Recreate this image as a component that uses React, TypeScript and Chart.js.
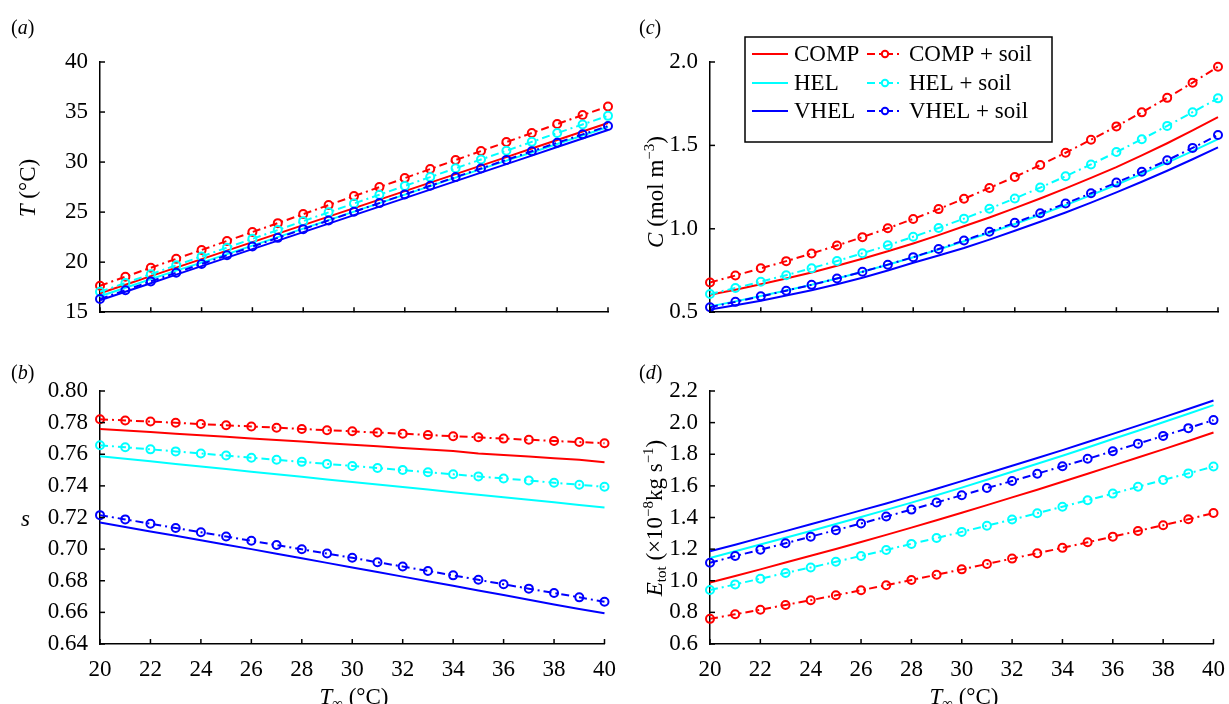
import React, { useEffect, useRef } from 'react';
import { Chart, registerables } from 'chart.js';

Chart.register(...registerables);

// ---------------- data ----------------
const xValues = [20, 21, 22, 23, 24, 25, 26, 27, 28, 29, 30, 31, 32, 33, 34, 35, 36, 37, 38, 39, 40];
const xTicks = [20, 22, 24, 26, 28, 30, 32, 34, 36, 38, 40];

const seriesNames = ['COMP', 'HEL', 'VHEL', 'COMP + soil', 'HEL + soil', 'VHEL + soil'];

// (a) T (°C)
const aTicks = [15, 20, 25, 30, 35, 40];
const aComp = [16.9, 17.75, 18.6, 19.45, 20.3, 21.15, 22.0, 22.85, 23.7, 24.55, 25.4, 26.25, 27.1, 27.95, 28.8, 29.65, 30.5, 31.35, 32.2, 33.05, 33.9];
const aHel = [16.6, 17.45, 18.3, 19.15, 19.95, 20.8, 21.65, 22.5, 23.35, 24.2, 25.05, 25.9, 26.75, 27.6, 28.45, 29.3, 30.15, 30.95, 31.8, 32.65, 33.5];
const aVhel = [16.2, 17.05, 17.9, 18.75, 19.6, 20.45, 21.3, 22.15, 23.0, 23.85, 24.7, 25.55, 26.4, 27.25, 28.1, 28.95, 29.8, 30.65, 31.5, 32.35, 33.2];
const aCompSoil = [17.64, 18.55, 19.44, 20.33, 21.22, 22.12, 23.01, 23.9, 24.8, 25.7, 26.6, 27.5, 28.4, 29.3, 30.2, 31.1, 32.0, 32.9, 33.8, 34.7, 35.55];
const aHelSoil = [17.04, 17.92, 18.8, 19.69, 20.57, 21.45, 22.33, 23.21, 24.1, 24.98, 25.86, 26.74, 27.62, 28.5, 29.38, 30.26, 31.14, 32.02, 32.9, 33.76, 34.62];
const aVhelSoil = [16.32, 17.2, 18.08, 18.95, 19.82, 20.69, 21.56, 22.43, 23.3, 24.17, 25.04, 25.9, 26.77, 27.63, 28.5, 29.36, 30.22, 31.08, 31.93, 32.77, 33.6];

// (b) s
const bTicks = [0.64, 0.66, 0.68, 0.7, 0.72, 0.74, 0.76, 0.78, 0.8];
const bComp = [0.776, 0.775, 0.774, 0.773, 0.772, 0.771, 0.77, 0.769, 0.768, 0.767, 0.766, 0.765, 0.764, 0.763, 0.762, 0.7605, 0.7595, 0.7585, 0.7575, 0.7565, 0.755];
const bHel = [0.7587, 0.7571, 0.7555, 0.7539, 0.7522, 0.7506, 0.749, 0.7474, 0.7458, 0.7441, 0.7425, 0.7409, 0.7393, 0.7377, 0.736, 0.7344, 0.7328, 0.7312, 0.7296, 0.7279, 0.7263];
const bVhel = [0.7168, 0.714, 0.7112, 0.7084, 0.7056, 0.7028, 0.7, 0.6971, 0.6942, 0.6913, 0.6884, 0.6855, 0.6826, 0.6797, 0.6768, 0.6739, 0.671, 0.668, 0.665, 0.6622, 0.6594];
const bCompSoil = [0.7821, 0.7814, 0.7807, 0.7799, 0.7791, 0.7783, 0.7776, 0.7768, 0.776, 0.7752, 0.7745, 0.7737, 0.773, 0.7722, 0.7714, 0.7707, 0.7699, 0.7692, 0.7684, 0.7677, 0.767];
const bHelSoil = [0.7657, 0.7644, 0.7631, 0.7618, 0.7605, 0.7592, 0.7578, 0.7565, 0.7552, 0.7539, 0.7526, 0.7513, 0.75, 0.7486, 0.7473, 0.746, 0.7447, 0.7434, 0.742, 0.7407, 0.7394];
const bVhelSoil = [0.7215, 0.7188, 0.7161, 0.7134, 0.7107, 0.708, 0.7053, 0.7026, 0.6999, 0.6972, 0.6945, 0.6917, 0.689, 0.6862, 0.6834, 0.6806, 0.6778, 0.675, 0.6723, 0.6695, 0.6667];

// (c) C (mol m^-3)
const cTicks = [0.5, 1.0, 1.5, 2.0];
const cComp = [0.605, 0.635, 0.667, 0.702, 0.738, 0.778, 0.82, 0.865, 0.912, 0.962, 1.015, 1.068, 1.124, 1.182, 1.242, 1.305, 1.37, 1.44, 1.513, 1.59, 1.67];
const cHel = [0.535, 0.565, 0.597, 0.63, 0.665, 0.702, 0.742, 0.784, 0.829, 0.876, 0.925, 0.976, 1.029, 1.084, 1.142, 1.202, 1.264, 1.329, 1.397, 1.466, 1.538];
const cVhel = [0.516, 0.542, 0.569, 0.6, 0.632, 0.668, 0.707, 0.75, 0.796, 0.84, 0.885, 0.935, 0.988, 1.042, 1.098, 1.157, 1.218, 1.282, 1.348, 1.417, 1.488];
const cCompSoil = [0.678, 0.72, 0.763, 0.806, 0.852, 0.9, 0.95, 1.003, 1.059, 1.118, 1.18, 1.245, 1.311, 1.382, 1.456, 1.534, 1.614, 1.698, 1.785, 1.876, 1.972];
const cHelSoil = [0.609, 0.645, 0.683, 0.722, 0.764, 0.807, 0.853, 0.901, 0.952, 1.005, 1.061, 1.12, 1.182, 1.247, 1.315, 1.386, 1.46, 1.537, 1.617, 1.699, 1.782];
const cVhelSoil = [0.53, 0.562, 0.595, 0.629, 0.664, 0.702, 0.742, 0.785, 0.83, 0.879, 0.93, 0.982, 1.036, 1.093, 1.152, 1.213, 1.277, 1.342, 1.411, 1.485, 1.562];

// (d) E_tot (x10^-8 kg s^-1)
const dTicks = [0.6, 0.8, 1.0, 1.2, 1.4, 1.6, 1.8, 2.0, 2.2];
const dComp = [0.989, 1.03, 1.072, 1.115, 1.158, 1.201, 1.245, 1.29, 1.336, 1.383, 1.43, 1.478, 1.527, 1.576, 1.626, 1.677, 1.728, 1.779, 1.831, 1.884, 1.938];
const dHel = [1.144, 1.186, 1.229, 1.272, 1.315, 1.359, 1.403, 1.448, 1.494, 1.541, 1.589, 1.639, 1.689, 1.74, 1.791, 1.843, 1.896, 1.949, 2.002, 2.056, 2.111];
const dVhel = [1.186, 1.228, 1.271, 1.314, 1.357, 1.401, 1.445, 1.489, 1.535, 1.582, 1.63, 1.678, 1.727, 1.776, 1.826, 1.877, 1.929, 1.981, 2.033, 2.086, 2.14];
const dCompSoil = [0.759, 0.788, 0.817, 0.847, 0.877, 0.908, 0.94, 0.972, 1.005, 1.038, 1.072, 1.106, 1.14, 1.174, 1.208, 1.243, 1.279, 1.315, 1.351, 1.389, 1.428];
const dHelSoil = [0.941, 0.977, 1.013, 1.049, 1.084, 1.12, 1.157, 1.195, 1.233, 1.27, 1.309, 1.348, 1.387, 1.427, 1.468, 1.509, 1.551, 1.594, 1.637, 1.679, 1.722];
const dVhelSoil = [1.114, 1.156, 1.196, 1.237, 1.279, 1.32, 1.362, 1.406, 1.45, 1.495, 1.541, 1.586, 1.631, 1.677, 1.724, 1.771, 1.819, 1.867, 1.916, 1.965, 2.016];

// ---------------- styles ----------------
const RED = '#ff0000';
const CYAN = '#00ffff';
const BLUE = '#0000ff';
const seriesColors = [RED, CYAN, BLUE, RED, CYAN, BLUE];
const FONT = '"Liberation Serif", "Times New Roman", Times, serif';
const FONT_SIZE = 23;
const DASH = [8, 4, 2, 4];

function makeDatasets(values: number[][]) {
  return values.map((v, i) => {
    const soil = i >= 3;
    return {
      label: seriesNames[i],
      data: xValues.map((x, k) => ({ x, y: v[k] })),
      borderColor: seriesColors[i],
      backgroundColor: seriesColors[i],
      borderWidth: 2,
      borderDash: soil ? DASH : [],
      pointRadius: soil ? 4 : 0,
      pointHoverRadius: soil ? 4 : 0,
      pointBorderWidth: 2,
      pointBorderColor: seriesColors[i],
      pointBackgroundColor: 'rgba(0,0,0,0)',
      pointStyle: 'circle',
      tension: 0,
      clip: false as any,
      order: 6 - i,
      fill: false,
    };
  });
}

const inwardTicks = {
  id: 'inwardTicks',
  afterDatasetsDraw(chart: any) {
    const ctx = chart.ctx;
    const { left, bottom } = chart.chartArea;
    const xs = chart.scales.x;
    const ys = chart.scales.y;
    ctx.save();
    ctx.strokeStyle = '#000';
    ctx.lineWidth = 1.5;
    xs.ticks.forEach((t: any) => {
      const px = xs.getPixelForValue(t.value);
      ctx.beginPath();
      ctx.moveTo(px, bottom);
      ctx.lineTo(px, bottom - 5);
      ctx.stroke();
    });
    ys.ticks.forEach((t: any) => {
      const py = ys.getPixelForValue(t.value);
      ctx.beginPath();
      ctx.moveTo(left, py);
      ctx.lineTo(left + 5, py);
      ctx.stroke();
    });
    ctx.restore();
  },
};

const boxLegend = {
  id: 'boxLegend',
  afterDraw(chart: any, _args: any, opts: any) {
    if (!opts || !opts.show) return;
    const ctx = chart.ctx;
    const { bx, by, bw, bh, rows, cols } = opts;
    ctx.save();
    ctx.fillStyle = '#fff';
    ctx.fillRect(bx, by, bw, bh);
    ctx.strokeStyle = '#000';
    ctx.lineWidth = 1.5;
    ctx.strokeRect(bx, by, bw, bh);
    ctx.font = `${FONT_SIZE}px ${FONT}`;
    ctx.textBaseline = 'middle';
    ctx.textAlign = 'left';
    chart.data.datasets.forEach((ds: any, i: number) => {
      const col = cols[Math.floor(i / 3)];
      const y = rows[i % 3];
      ctx.strokeStyle = ds.borderColor;
      ctx.lineWidth = 2;
      ctx.setLineDash(ds.borderDash || []);
      ctx.beginPath();
      ctx.moveTo(col.x0, y);
      ctx.lineTo(col.x1, y);
      ctx.stroke();
      ctx.setLineDash([]);
      if (ds.pointRadius > 0) {
        ctx.beginPath();
        ctx.arc((col.x0 + col.x1) / 2, y, 3.2, 0, Math.PI * 2);
        ctx.fillStyle = '#fff';
        ctx.fill();
        ctx.stroke();
      }
      ctx.fillStyle = '#000';
      ctx.fillText(ds.label, col.tx, y + 1);
    });
    ctx.restore();
  },
};

type PanelProps = {
  left: number;
  top: number;
  width: number;
  height: number;
  yAxisW: number;
  xAxisH: number;
  padTop: number;
  padRight: number;
  yTicks: number[];
  decimals: number;
  values: number[][];
  showXLabels: boolean;
  legend?: any;
};

function Panel(p: PanelProps) {
  const ref = useRef<HTMLCanvasElement>(null);
  useEffect(() => {
    if (!ref.current) return;
    const chart = new Chart(ref.current, {
      type: 'line',
      data: { datasets: makeDatasets(p.values) as any },
      plugins: [inwardTicks, boxLegend],
      options: {
        responsive: false,
        maintainAspectRatio: false,
        animation: false,
        events: [],
        layout: { autoPadding: false, padding: { top: p.padTop, right: p.padRight, left: 0, bottom: 0 } },
        plugins: {
          legend: { display: false },
          tooltip: { enabled: false },
          title: { display: false },
          boxLegend: p.legend || { show: false },
        } as any,
        scales: {
          x: {
            type: 'linear',
            min: xTicks[0],
            max: xTicks[xTicks.length - 1],
            afterBuildTicks: (s: any) => {
              s.ticks = xTicks.map((v) => ({ value: v }));
            },
            afterFit: (s: any) => {
              s.height = p.xAxisH;
            },
            grid: { display: false },
            border: { display: true, color: '#000', width: 1.5 },
            ticks: {
              display: p.showXLabels,
              color: '#000',
              font: { family: FONT, size: FONT_SIZE },
              padding: 4,
              maxRotation: 0,
              autoSkip: false,
              callback: (v: any) => String(v),
            },
          },
          y: {
            type: 'linear',
            min: p.yTicks[0],
            max: p.yTicks[p.yTicks.length - 1],
            afterBuildTicks: (s: any) => {
              s.ticks = p.yTicks.map((v) => ({ value: v }));
            },
            afterFit: (s: any) => {
              s.width = p.yAxisW;
            },
            grid: { display: false },
            border: { display: true, color: '#000', width: 1.5 },
            ticks: {
              color: '#000',
              font: { family: FONT, size: FONT_SIZE },
              padding: 4,
              autoSkip: false,
              callback: (v: any) => Number(v).toFixed(p.decimals),
            },
          },
        },
      } as any,
    });
    return () => chart.destroy();
  }, []);
  return (
    <canvas
      ref={ref}
      width={p.width}
      height={p.height}
      style={{ position: 'absolute', left: p.left, top: p.top, width: p.width, height: p.height }}
    />
  );
}

const textBase: React.CSSProperties = {
  position: 'absolute',
  fontFamily: FONT,
  fontSize: FONT_SIZE,
  color: '#000',
  whiteSpace: 'nowrap',
  lineHeight: 1,
};

function RotLabel({ cx, cy, children }: { cx: number; cy: number; children: React.ReactNode }) {
  return (
    <div
      style={{
        ...textBase,
        left: cx,
        top: cy,
        transform: 'translate(-50%, -50%) rotate(-90deg)',
      }}
    >
      {children}
    </div>
  );
}

function PanelTag({ x, y, letter }: { x: number; y: number; letter: string }) {
  return (
    <div style={{ ...textBase, fontSize: 20, left: x, top: y, transform: 'translateY(-50%)' }}>
      (<i>{letter}</i>)
    </div>
  );
}

const supStyle: React.CSSProperties = { fontSize: '0.65em', verticalAlign: '0.55em', lineHeight: 0 };
const subStyle: React.CSSProperties = { fontSize: '0.65em', verticalAlign: '-0.3em', lineHeight: 0 };

function XTitle({ cx }: { cx: number }) {
  return (
    <div style={{ ...textBase, left: cx, top: 685, transform: 'translateX(-50%)' }}>
      <i>T</i>
      <span style={subStyle}>∞</span> (°C)
    </div>
  );
}

export default function App() {
  const legend = {
    show: true,
    bx: 125,
    by: 37,
    bw: 307,
    bh: 105,
    rows: [54, 83, 111],
    cols: [
      { x0: 132, x1: 168, tx: 174 },
      { x0: 247, x1: 283, tx: 289 },
    ],
  };
  return (
    <div style={{ position: 'absolute', left: 0, top: 0, width: 1229, height: 704, background: '#fff', overflow: 'hidden' }}>
      <Panel
        left={0}
        top={0}
        width={620}
        height={330}
        yAxisW={100}
        xAxisH={15}
        padTop={62}
        padRight={12}
        yTicks={aTicks}
        decimals={0}
        values={[aComp, aHel, aVhel, aCompSoil, aHelSoil, aVhelSoil]}
        showXLabels={false}
      />
      <Panel
        left={0}
        top={330}
        width={620}
        height={374}
        yAxisW={100}
        xAxisH={60}
        padTop={61}
        padRight={12}
        yTicks={bTicks}
        decimals={2}
        values={[bComp, bHel, bVhel, bCompSoil, bHelSoil, bVhelSoil]}
        showXLabels={true}
      />
      <Panel
        left={620}
        top={0}
        width={609}
        height={330}
        yAxisW={90}
        xAxisH={15}
        padTop={62}
        padRight={11}
        yTicks={cTicks}
        decimals={1}
        values={[cComp, cHel, cVhel, cCompSoil, cHelSoil, cVhelSoil]}
        showXLabels={false}
        legend={legend}
      />
      <Panel
        left={620}
        top={330}
        width={609}
        height={374}
        yAxisW={90}
        xAxisH={60}
        padTop={61}
        padRight={11}
        yTicks={dTicks}
        decimals={1}
        values={[dComp, dHel, dVhel, dCompSoil, dHelSoil, dVhelSoil]}
        showXLabels={true}
      />

      <PanelTag x={11} y={27} letter="a" />
      <PanelTag x={639} y={27} letter="c" />
      <PanelTag x={11} y={372} letter="b" />
      <PanelTag x={639} y={372} letter="d" />

      <RotLabel cx={27} cy={188}>
        <i>T</i> (°C)
      </RotLabel>
      <div style={{ ...textBase, left: 21, top: 518, transform: 'translateY(-50%)' }}>
        <i>s</i>
      </div>
      <RotLabel cx={655} cy={192}>
        <i>C</i> (mol m<span style={supStyle}>−3</span>)
      </RotLabel>
      <RotLabel cx={654} cy={518}>
        <i>E</i>
        <span style={subStyle}>tot</span> (×10<span style={supStyle}>−8</span>kg s<span style={supStyle}>−1</span>)
      </RotLabel>

      <XTitle cx={354} />
      <XTitle cx={964} />
    </div>
  );
}
